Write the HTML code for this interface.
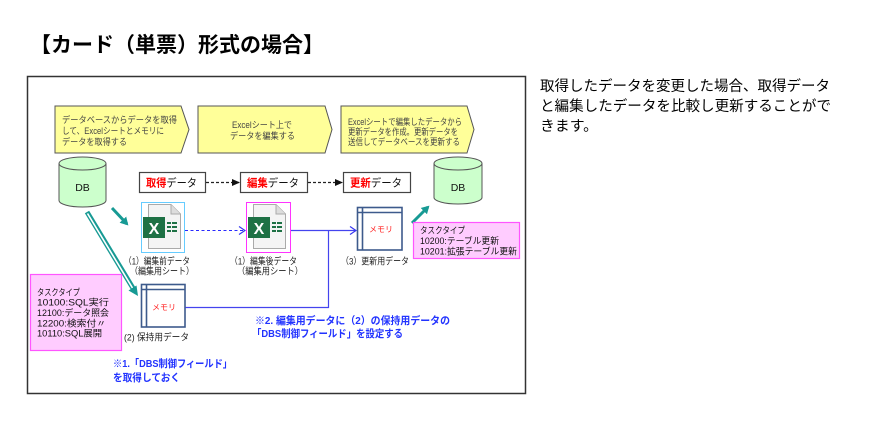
<!DOCTYPE html>
<html><head><meta charset="utf-8"><style>
html,body{margin:0;padding:0;background:#fff;}
svg{display:block;}
text{font-family:"Liberation Sans","Noto Sans CJK JP",sans-serif;}
</style></head><body>
<svg width="869" height="432" viewBox="0 0 869 432" xmlns="http://www.w3.org/2000/svg">
<defs>
<marker id="blk" markerWidth="8" markerHeight="8" refX="7" refY="4" orient="auto" markerUnits="userSpaceOnUse"><path d="M0,0.5 L8,4 L0,7.5 Z" fill="#111"/></marker>
<marker id="opn" markerWidth="8" markerHeight="10" refX="7" refY="5" orient="auto" markerUnits="userSpaceOnUse"><path d="M1,1 L7,5 L1,9" fill="none" stroke="#3535f0" stroke-width="1.2"/></marker>
<marker id="teal" markerWidth="10" markerHeight="10" refX="6" refY="5" orient="auto" markerUnits="userSpaceOnUse"><path d="M0,0.5 L8,5 L0,9.5 Z" fill="#179a94"/></marker>
</defs>

<!-- Title -->
<text x="30" y="52" font-size="21" font-weight="bold" fill="#000" textLength="294" lengthAdjust="spacingAndGlyphs">【カード（単票）形式の場合】</text>

<!-- Frame -->
<rect x="27.5" y="76.5" width="498" height="317" fill="#fff" stroke="#333" stroke-width="1.5"/>

<!-- Right paragraph -->
<text x="540" y="91" font-size="14.5" fill="#000" textLength="290" lengthAdjust="spacingAndGlyphs">取得したデータを変更した場合、取得データ</text>
<text x="540" y="111" font-size="14.5" fill="#000" textLength="291" lengthAdjust="spacingAndGlyphs">と編集したデータを比較し更新することがで</text>
<text x="540" y="131" font-size="14.5" fill="#000" textLength="58" lengthAdjust="spacingAndGlyphs">きます。</text>

<!-- Pentagons -->
<polygon points="55,106 181,106 189,129.5 181,153 55,153" fill="#ffff99" stroke="#555" stroke-width="1"/>
<polygon points="198,106 325,106 332,129.5 325,153 198,153" fill="#ffff99" stroke="#555" stroke-width="1"/>
<polygon points="341,106 467,106 474,129.5 467,153 341,153" fill="#ffff99" stroke="#555" stroke-width="1"/>

<g font-size="9" fill="#444">
<text x="62" y="123" textLength="115" lengthAdjust="spacingAndGlyphs">データベースからデータを取得</text>
<text x="62" y="134" textLength="102" lengthAdjust="spacingAndGlyphs">して、Excelシートとメモリに</text>
<text x="62" y="145" textLength="65" lengthAdjust="spacingAndGlyphs">データを取得する</text>
<text x="232" y="128" textLength="60" lengthAdjust="spacingAndGlyphs">Excelシート上で</text>
<text x="230" y="139" textLength="65" lengthAdjust="spacingAndGlyphs">データを編集する</text>
<text x="348" y="125" textLength="114" lengthAdjust="spacingAndGlyphs">Excelシートで編集したデータから</text>
<text x="348" y="135" textLength="110" lengthAdjust="spacingAndGlyphs">更新データを作成。更新データを</text>
<text x="348" y="145" textLength="112" lengthAdjust="spacingAndGlyphs">送信してデータベースを更新する</text>
</g>

<!-- DB cylinders -->
<g stroke="#555" stroke-width="1" fill="#ccffcc">
<path d="M59,163.5 L59,200.5 A23.5,6.5 0 0 0 106,200.5 L106,163.5"/>
<ellipse cx="82.5" cy="163.5" rx="23.5" ry="6.5"/>
<path d="M434,163.5 L434,197.5 A24,6.5 0 0 0 482,197.5 L482,163.5"/>
<ellipse cx="458" cy="163.5" rx="24" ry="6.5"/>
</g>
<text x="82.5" y="191" font-size="10.5" text-anchor="middle" fill="#111">DB</text>
<text x="458" y="191" font-size="10.5" text-anchor="middle" fill="#111">DB</text>

<!-- Data boxes -->
<g fill="#fff" stroke="#444" stroke-width="1.2">
<rect x="139.5" y="172.5" width="66" height="20"/>
<rect x="240.5" y="172.5" width="67" height="20"/>
<rect x="343.5" y="172.5" width="67" height="20"/>
</g>
<g font-size="11">
<text x="146" y="186.5" textLength="51" lengthAdjust="spacingAndGlyphs"><tspan fill="#ff0000" font-weight="bold">取得</tspan><tspan fill="#111">データ</tspan></text>
<text x="247" y="186.5" textLength="52" lengthAdjust="spacingAndGlyphs"><tspan fill="#ff0000" font-weight="bold">編集</tspan><tspan fill="#111">データ</tspan></text>
<text x="350" y="186.5" textLength="52" lengthAdjust="spacingAndGlyphs"><tspan fill="#ff0000" font-weight="bold">更新</tspan><tspan fill="#111">データ</tspan></text>
</g>
<line x1="206" y1="182.5" x2="239" y2="182.5" stroke="#222" stroke-width="1.2" stroke-dasharray="3,2" marker-end="url(#blk)"/>
<line x1="308" y1="182.5" x2="342" y2="182.5" stroke="#222" stroke-width="1.2" stroke-dasharray="3,2" marker-end="url(#blk)"/>

<!-- Excel icon 1 -->
<rect x="141.5" y="202.5" width="43" height="50" fill="#fff" stroke="#66ccff" stroke-width="1"/>
<path d="M148.5,204.5 L171,204.5 L180.5,214 L180.5,248.5 L148.5,248.5 Z" fill="#f4f4f4" stroke="#aaa" stroke-width="1"/>
<path d="M171,204.5 L171,214 L180.5,214" fill="#ddd" stroke="#aaa" stroke-width="1"/>
<rect x="143" y="217" width="22" height="21" fill="#1e7145"/>
<text x="154" y="234" font-size="16" font-weight="bold" fill="#fff" text-anchor="middle">X</text>
<g fill="#1e7145">
<rect x="167" y="222" width="4" height="2"/><rect x="172" y="222" width="5" height="2"/>
<rect x="167" y="226" width="4" height="2"/><rect x="172" y="226" width="5" height="2"/>
<rect x="167" y="230" width="4" height="2"/><rect x="172" y="230" width="5" height="2"/>
</g>

<!-- Excel icon 2 -->
<rect x="246.5" y="202.5" width="44" height="50" fill="#fff" stroke="#ff33ff" stroke-width="1"/>
<path d="M253.5,204.5 L276,204.5 L285.5,214 L285.5,248.5 L253.5,248.5 Z" fill="#f4f4f4" stroke="#aaa" stroke-width="1"/>
<path d="M276,204.5 L276,214 L285.5,214" fill="#ddd" stroke="#aaa" stroke-width="1"/>
<rect x="248" y="217" width="22" height="21" fill="#1e7145"/>
<text x="259" y="234" font-size="16" font-weight="bold" fill="#fff" text-anchor="middle">X</text>
<g fill="#1e7145">
<rect x="272" y="222" width="4" height="2"/><rect x="277" y="222" width="5" height="2"/>
<rect x="272" y="226" width="4" height="2"/><rect x="277" y="226" width="5" height="2"/>
<rect x="272" y="230" width="4" height="2"/><rect x="277" y="230" width="5" height="2"/>
</g>

<!-- Memory boxes -->
<g fill="#fff" stroke="#3d5a8c" stroke-width="1.6">
<rect x="357.5" y="207.5" width="44.5" height="42.5"/>
<line x1="362.5" y1="207.5" x2="362.5" y2="250"/>
<line x1="357.5" y1="212.5" x2="402" y2="212.5"/>
<rect x="141.5" y="284.5" width="43.5" height="42.5"/>
<line x1="146.5" y1="284.5" x2="146.5" y2="327"/>
<line x1="141.5" y1="289.5" x2="185" y2="289.5"/>
</g>
<text x="381" y="232" font-size="8" fill="#ff2020" text-anchor="middle">メモリ</text>
<text x="164" y="310" font-size="8" fill="#ff2020" text-anchor="middle">メモリ</text>

<!-- Blue connectors -->
<line x1="185" y1="230.5" x2="245" y2="230.5" stroke="#2a2aff" stroke-width="1.1" stroke-dasharray="3,2.5" marker-end="url(#opn)"/>
<line x1="291" y1="230.5" x2="356" y2="230.5" stroke="#4444ee" stroke-width="1.2" marker-end="url(#opn)"/>
<polyline points="185.5,307.5 328.5,307.5 328.5,230.5" fill="none" stroke="#4444ee" stroke-width="1.2"/>

<!-- Teal arrows -->
<line x1="112" y1="208" x2="127" y2="224" stroke="#179a94" stroke-width="3" marker-end="url(#teal)"/>
<line x1="412" y1="223" x2="428" y2="207" stroke="#179a94" stroke-width="3" marker-end="url(#teal)"/>
<line x1="87" y1="212" x2="133.5" y2="289" stroke="#179a94" stroke-width="5"/>
<line x1="87.5" y1="213.5" x2="132.5" y2="288" stroke="#fff" stroke-width="1.6"/>
<polygon points="138,296 128.5,290.5 136.5,285.5" fill="#179a94"/>

<!-- Labels -->
<g font-size="9.5" fill="#222">
<text x="124" y="264.5" textLength="66" lengthAdjust="spacingAndGlyphs">（1）編集前データ</text>
<text x="130" y="274.5" textLength="64" lengthAdjust="spacingAndGlyphs">（編集用シート）</text>
<text x="230" y="264.5" textLength="67" lengthAdjust="spacingAndGlyphs">（1）編集後データ</text>
<text x="237" y="274.5" textLength="66" lengthAdjust="spacingAndGlyphs">（編集用シート）</text>
<text x="341" y="264.5" textLength="68" lengthAdjust="spacingAndGlyphs">（3）更新用データ</text>
<text x="124" y="340.5" textLength="65" lengthAdjust="spacingAndGlyphs">(2) 保持用データ</text>
</g>

<!-- Task type boxes -->
<rect x="413.5" y="222.5" width="106" height="36" fill="#ffccff" stroke="#ff55ff" stroke-width="1.2"/>
<g font-size="9" fill="#111">
<text x="420" y="233.5" textLength="45" lengthAdjust="spacingAndGlyphs">タスクタイプ</text>
<text x="420" y="244" textLength="79" lengthAdjust="spacingAndGlyphs">10200:テーブル更新</text>
<text x="420" y="254.5" textLength="97" lengthAdjust="spacingAndGlyphs">10201:拡張テーブル更新</text>
</g>
<rect x="30.5" y="274.5" width="91" height="76" fill="#ffccff" stroke="#ff55ff" stroke-width="1.2"/>
<g font-size="9" fill="#111">
<text x="37" y="295.5" textLength="43" lengthAdjust="spacingAndGlyphs">タスクタイプ</text>
<text x="37" y="305.5" textLength="72" lengthAdjust="spacingAndGlyphs">10100:SQL実行</text>
<text x="37" y="316" textLength="72" lengthAdjust="spacingAndGlyphs">12100:データ照会</text>
<text x="37" y="326.5" textLength="69" lengthAdjust="spacingAndGlyphs">12200:検索付〃</text>
<text x="37" y="336.5" textLength="65" lengthAdjust="spacingAndGlyphs">10110:SQL展開</text>
</g>

<!-- Blue notes -->
<g font-size="10.5" font-weight="bold" fill="#2233ff">
<text x="113" y="367" textLength="119" lengthAdjust="spacingAndGlyphs">※1.「DBS制御フィールド」</text>
<text x="113" y="381" textLength="67" lengthAdjust="spacingAndGlyphs">を取得しておく</text>
<text x="255" y="324" textLength="195" lengthAdjust="spacingAndGlyphs">※2. 編集用データに（2）の保持用データの</text>
<text x="252" y="337" textLength="151" lengthAdjust="spacingAndGlyphs">「DBS制御フィールド」を設定する</text>
</g>
</svg>
</body></html>
